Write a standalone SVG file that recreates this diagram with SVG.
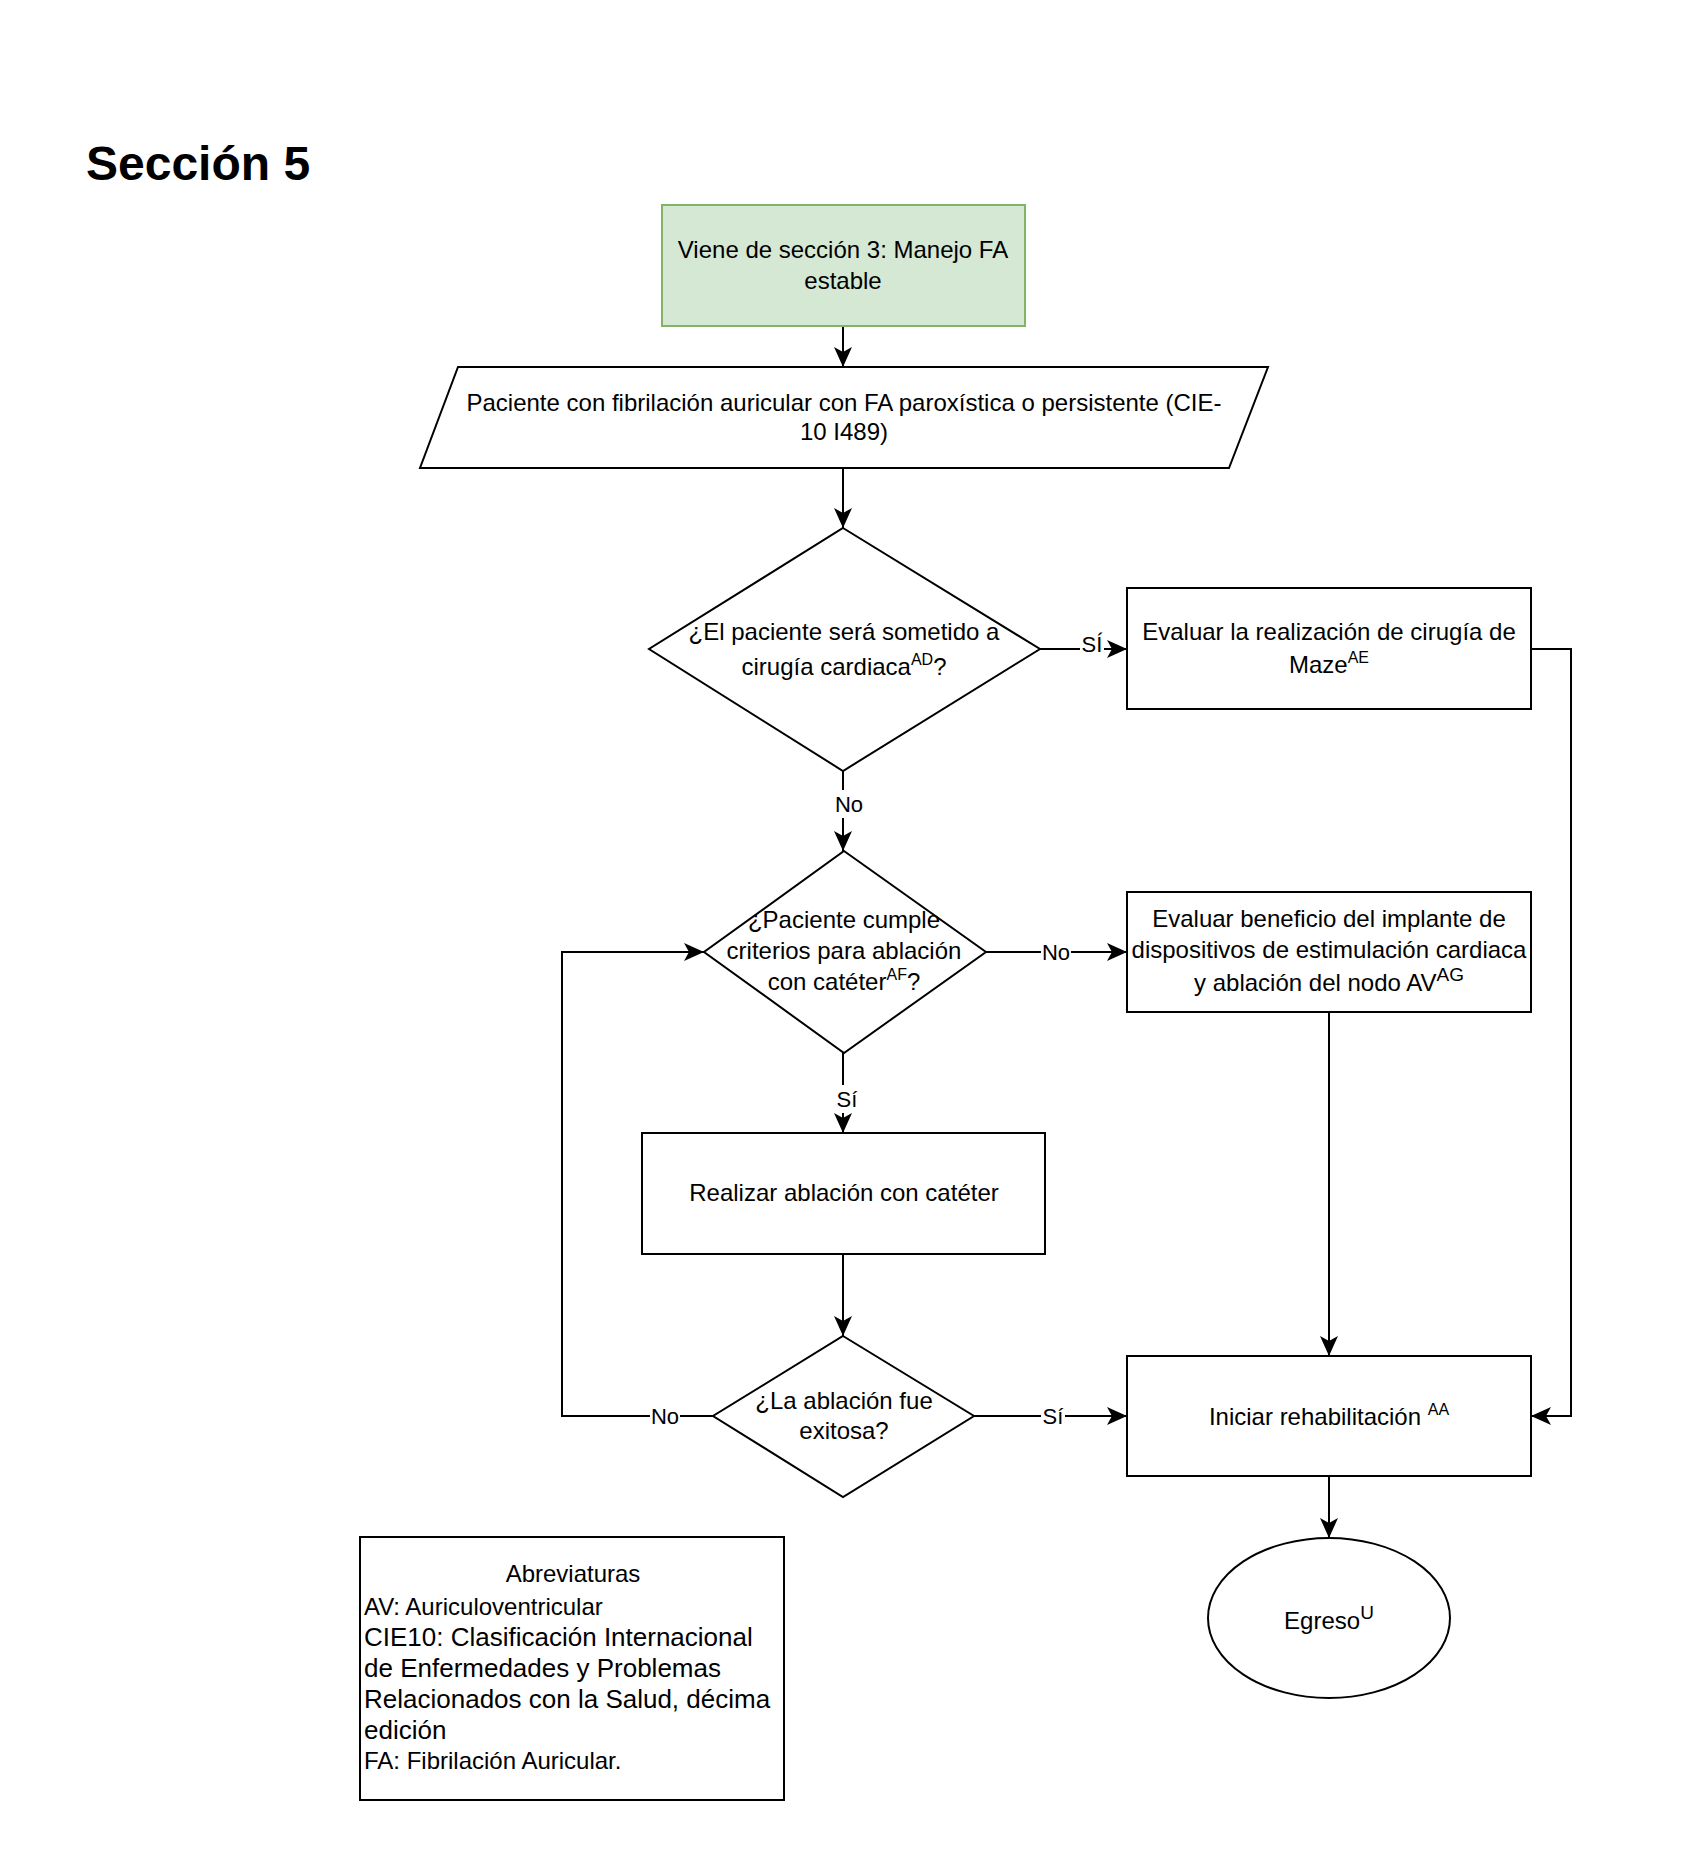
<svg xmlns="http://www.w3.org/2000/svg" width="1686" height="1857" viewBox="0 0 1686 1857">
<defs>
<marker id="arr" markerUnits="userSpaceOnUse" markerWidth="22" markerHeight="18" viewBox="0 0 22 18" refX="20" refY="9" orient="auto">
<path d="M0,0 L20,9 L0,18 L5,9 Z" fill="#000"/>
</marker>
</defs>
<style>
text{font-family:"Liberation Sans",Arial,sans-serif;fill:#000}
.t{font-size:24px;text-anchor:middle}
.lb{font-size:22px;text-anchor:middle}
.sh{fill:#fff;stroke:#000;stroke-width:2}
.e{fill:none;stroke:#000;stroke-width:2}
.s{font-size:16px}
.s2{font-size:19px}
</style>
<rect width="1686" height="1857" fill="#fff"/>
<text x="86" y="180" font-size="48" font-weight="bold" style="font-size:48px">Sección 5</text>

<g id="connectors">
<path class="e" d="M843,326 L843,367" marker-end="url(#arr)"/>
<path class="e" d="M843,468 L843,528" marker-end="url(#arr)"/>
<path class="e" d="M1040,649 L1127,649" marker-end="url(#arr)"/>
<path class="e" d="M843,771 L843,851" marker-end="url(#arr)"/>
<path class="e" d="M1531,649 L1571,649 L1571,1416 L1531,1416" marker-end="url(#arr)"/>
<path class="e" d="M986,952 L1127,952" marker-end="url(#arr)"/>
<path class="e" d="M843,1053 L843,1133" marker-end="url(#arr)"/>
<path class="e" d="M843,1254 L843,1336" marker-end="url(#arr)"/>
<path class="e" d="M974,1416 L1127,1416" marker-end="url(#arr)"/>
<path class="e" d="M713,1416 L562,1416 L562,952 L704,952" marker-end="url(#arr)"/>
<path class="e" d="M1329,1012 L1329,1356" marker-end="url(#arr)"/>
<path class="e" d="M1329,1476 L1329,1538" marker-end="url(#arr)"/>
<rect x="1080" y="634" width="24" height="28" fill="#fff"/>
<text class="lb" x="1092" y="652">SÍ</text>
<rect x="834" y="790" width="30" height="28" fill="#fff"/>
<text class="lb" x="849" y="812">No</text>
<rect x="1041" y="938" width="30" height="28" fill="#fff"/>
<text class="lb" x="1056" y="960">No</text>
<rect x="835" y="1085" width="24" height="28" fill="#fff"/>
<text class="lb" x="847" y="1107">Sí</text>
<rect x="650" y="1402" width="30" height="28" fill="#fff"/>
<text class="lb" x="665" y="1424">No</text>
<rect x="1041" y="1402" width="24" height="28" fill="#fff"/>
<text class="lb" x="1053" y="1424">Sí</text>
</g>

<g id="n-start">
<rect x="662" y="205" width="363" height="121" fill="#d5e8d4" stroke="#82b366" stroke-width="2"/>
<text class="t" x="843" y="258">Viene de sección 3: Manejo FA</text>
<text class="t" x="843" y="289">estable</text>
</g>

<g id="n-paciente">
<polygon class="sh" points="458,367 1268,367 1229,468 420,468"/>
<text class="t" x="844" y="411">Paciente con fibrilación auricular con FA paroxística o persistente (CIE-</text>
<text class="t" x="844" y="440">10 I489)</text>
</g>

<g id="n-cirugia">
<polygon class="sh" points="843,528 1040,649 843,771 649,649"/>
<text class="t" x="844" y="640">¿El paciente será sometido a</text>
<text class="t" x="844" y="675">cirugía cardiaca<tspan class="s" dy="-10">AD</tspan><tspan dy="10">?</tspan></text>
</g>

<g id="n-maze">
<rect class="sh" x="1127" y="588" width="404" height="121"/>
<text class="t" x="1329" y="640">Evaluar la realización de cirugía de</text>
<text class="t" x="1329" y="673">Maze<tspan class="s" dy="-10">AE</tspan></text>
</g>

<g id="n-criterios">
<polygon class="sh" points="844,851 986,952 844,1053 704,952"/>
<text class="t" x="844" y="928">¿Paciente cumple</text>
<text class="t" x="844" y="959">criterios para ablación</text>
<text class="t" x="844" y="990">con catéter<tspan class="s" dy="-10">AF</tspan><tspan dy="10">?</tspan></text>
</g>

<g id="n-dispositivos">
<rect class="sh" x="1127" y="892" width="404" height="120"/>
<text class="t" x="1329" y="927">Evaluar beneficio del implante de</text>
<text class="t" x="1329" y="958">dispositivos de estimulación cardiaca</text>
<text class="t" x="1329" y="991">y ablación del nodo AV<tspan class="s2" dy="-10">AG</tspan></text>
</g>

<g id="n-realizar">
<rect class="sh" x="642" y="1133" width="403" height="121"/>
<text class="t" x="844" y="1201">Realizar ablación con catéter</text>
</g>

<g id="n-exitosa">
<polygon class="sh" points="843,1336 974,1416 843,1497 713,1416"/>
<text class="t" x="844" y="1409">¿La ablación fue</text>
<text class="t" x="844" y="1439">exitosa?</text>
</g>

<g id="n-rehab">
<rect class="sh" x="1127" y="1356" width="404" height="120"/>
<text class="t" x="1329" y="1425">Iniciar rehabilitación <tspan class="s" dy="-10">AA</tspan></text>
</g>

<g id="n-egreso">
<ellipse class="sh" cx="1329" cy="1618" rx="121" ry="80"/>
<text class="t" x="1329" y="1629">Egreso<tspan class="s2" dy="-10">U</tspan></text>
</g>

<g id="n-abreviaturas">
<rect class="sh" x="360" y="1537" width="424" height="263"/>
<text class="t" x="573" y="1582">Abreviaturas</text>
<text x="364" y="1615" style="font-size:24px">AV: Auriculoventricular</text>
<text x="364" y="1646" style="font-size:26px">CIE10: Clasificación Internacional</text>
<text x="364" y="1677" style="font-size:26px">de Enfermedades y Problemas</text>
<text x="364" y="1708" style="font-size:26px">Relacionados con la Salud, décima</text>
<text x="364" y="1739" style="font-size:26px">edición</text>
<text x="364" y="1769" style="font-size:24px">FA: Fibrilación Auricular.</text>
</g>
</svg>
